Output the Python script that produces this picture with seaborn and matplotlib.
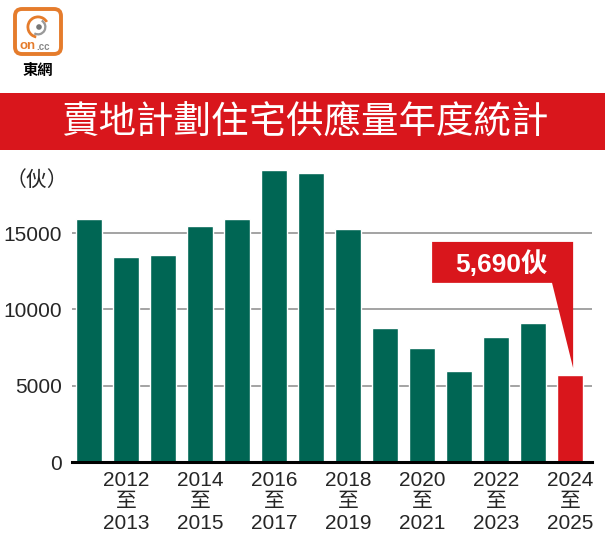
import matplotlib
matplotlib.use("Agg")
import matplotlib.pyplot as plt
import seaborn as sns
import pandas as pd
from matplotlib.patches import Rectangle, Polygon, FancyBboxPatch, Circle, Wedge

# data
years = ["2011/12", "2012/13", "2013/14", "2014/15", "2015/16", "2016/17", "2017/18",
         "2018/19", "2019/20", "2020/21", "2021/22", "2022/23", "2023/24", "2024/25"]
supply = [15950, 13450, 13550, 15450, 15950, 19150, 18900,
          15250, 8800, 7500, 6000, 8200, 9100, 5690]
tick_labels = ["", "2012\n至\n2013", "", "2014\n至\n2015", "", "2016\n至\n2017", "",
               "2018\n至\n2019", "", "2020\n至\n2021", "", "2022\n至\n2023", "", "2024\n至\n2025"]
y_ticks = [0, 5000, 10000, 15000]

GREEN = "#006654"
RED = "#d9161c"
ORANGE = "#e57c2c"
num_font = ["Liberation Sans", "Noto Sans CJK TC"]
cjk_font = ["Noto Sans CJK TC", "DejaVu Sans"]

sns.set_style("white")
plt.rcParams["font.family"] = num_font

df = pd.DataFrame({"year": years, "supply": supply})
colors = [GREEN] * (len(years) - 1) + [RED]

fig = plt.figure(figsize=(6.09, 5.49), dpi=100)
ax = fig.add_axes([72 / 609, (549 - 462.3) / 549, 520 / 609, (462.3 - 160) / 549])

sns.barplot(data=df, x="year", y="supply", hue="year", palette=colors,
            legend=False, width=0.7, saturation=1, ax=ax, zorder=2)

ax.set_xlim(-0.46, 13.59)
ax.set_ylim(0, 19780)
ax.set_yticks(y_ticks)
ax.set_yticklabels([str(v) for v in y_ticks], fontsize=15, family=num_font)
ax.set_xticks(range(len(years)))
ax.set_xticklabels(tick_labels, fontsize=15, family=num_font, linespacing=1.18)
ax.tick_params(axis="both", length=0)
ax.tick_params(axis="y", pad=7)
ax.tick_params(axis="x", pad=6)
ax.set_xlabel("")
ax.set_ylabel("")
for s in ["left", "right", "top"]:
    ax.spines[s].set_visible(False)
ax.spines["bottom"].set_color("black")
ax.spines["bottom"].set_linewidth(2.2)
ax.yaxis.grid(True, color="#8a8a8a", linewidth=1.1, zorder=0)
ax.set_axisbelow(True)

# callout for the latest value
last = len(years) - 1
box = Polygon([(9.27, 14420), (13.08, 14420), (13.08, supply[last] + 480),
               (12.51, 11740), (9.27, 11740)],
              closed=True, facecolor=RED, edgecolor="none", zorder=5, clip_on=False)
ax.add_patch(box)
ax.text(11.15, 13000, f"{supply[last]:,}伙", color="white", fontsize=19,
        fontweight="bold", ha="center", va="center", zorder=6,
        family=["Liberation Sans", "Noto Sans CJK TC"])

# unit label
fig.text(6 / 609, 1 - 180 / 549, "（伙）", fontsize=15, family=cjk_font,
         ha="left", va="center")

# title banner
fig.patches.append(Rectangle((0, 1 - 150 / 549), 605 / 609, 57 / 549,
                             transform=fig.transFigure, facecolor=RED,
                             edgecolor="none", zorder=0))
fig.text(305 / 609, 1 - 122 / 549, "賣地計劃住宅供應量年度統計", color="white",
         fontsize=27, family=cjk_font, ha="center", va="center")

# logo
lx = fig.add_axes([0, 1 - 90 / 549, 80 / 609, 90 / 549])
lx.set_xlim(0, 80)
lx.set_ylim(90, 0)
lx.axis("off")
lx.add_patch(FancyBboxPatch((15, 9), 46, 45, boxstyle="round,pad=0,rounding_size=7",
                            facecolor="white", edgecolor=ORANGE, linewidth=2.8))
lx.add_patch(Wedge((38, 27), 11.5, 100, 330, width=2.8, facecolor=ORANGE, edgecolor="none"))
lx.add_patch(Wedge((38, 27), 8.5, 300, 120, width=2.3, facecolor="#999999", edgecolor="none"))
lx.add_patch(Circle((39, 27), 2.8, facecolor="#777777", edgecolor="none"))
lx.text(36, 46, "on", color=ORANGE, fontsize=9.5, fontweight="bold", ha="right",
        va="center", family=["Liberation Sans"])
lx.text(36, 46.5, ".cc", color="#888888", fontsize=7, fontweight="bold", ha="left",
        va="center", family=["Liberation Sans"])
lx.text(38, 70, "東網", color="black", fontsize=11, fontweight="bold", ha="center",
        va="center", family=cjk_font)

fig.savefig("out.png", dpi=100)
